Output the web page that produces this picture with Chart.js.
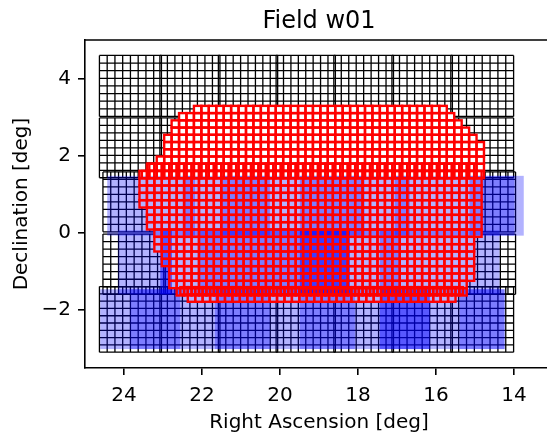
<!DOCTYPE html>
<html>
<head>
<meta charset="utf-8">
<script src="https://cdn.jsdelivr.net/npm/chart.js@4"></script>
<style>
  html, body { margin: 0; padding: 0; background: #fff; overflow: hidden; }
</style>
</head>
<body>
<canvas id="field-chart" width="560" height="432"></canvas>
<script>
// axis ticks
const raTicks = [14, 16, 18, 20, 22, 24];
const decTicks = [-2, 0, 2, 4];

// black chip mosaics: chip RA [left, right], chip Dec [top, bottom], cells per chip
const topChipRa = [[24.63, 23.04], [23.08, 21.54], [21.58, 20.06], [20.10, 18.58], [18.62, 17.09], [17.13, 15.58], [15.62, 14.01]];
const topChipDec = [[4.60, 3.02], [2.98, 1.43]];
const midChipRa = [[24.54, 22.94], [22.98, 21.44], [21.48, 19.96], [20.00, 18.48], [18.52, 16.99], [17.03, 15.48], [15.52, 13.96]];
const midChipDec = [[1.58, 0.03], [-0.03, -1.59]];
const botChipDec = [[-1.39, -3.09]];
const mosaics = [
  { ra: topChipRa, dec: topChipDec, nx: 8, ny: 8 },
  { ra: midChipRa, dec: midChipDec, nx: 8, ny: 8 },
  { ra: topChipRa, dec: botChipDec, nx: 8, ny: 9 },
];

// red cell grids: origin RA / Dec, cell size, and [firstCol, lastCol) for each row
const redA = { ra0: 23.542, dec0: 3.293, dRa: 0.1907, dDec: 0.1874,
  rows: [[7, 41], [5, 42], [4, 43], [4, 44], [3, 45], [3, 46], [3, 46], [2, 46], [1, 46], [0, 46]] };
const redB = { ra0: 23.603, dec0: 1.799, dRa: 0.1907, dDec: 0.19,
  rows: [[1, 45], [0, 46], [0, 46], [0, 46], [0, 46], [0, 46], [1, 46], [1, 46], [1, 46], [2, 46],
         [2, 45], [2, 45], [3, 45], [3, 45], [4, 45], [4, 45], [4, 44], [5, 44]] };
const redC = { ra0: 23.509, dec0: -1.404, dRa: 0.1907, dDec: 0.19,
  rows: [[5, 43], [6, 42]] };
const redGrids = [redA, redB, redC];

// blue footprints, per band: Dec [top, bottom] and RA [left, right] of each rectangle
const blueBandDec = [[1.48, -0.07], [0.07, -1.59], [-1.46, -3.01]];
const blueBandRa = [
  [[24.43, 13.75], [22.49, 22.18], [21.54, 20.26], [19.49, 17.83], [17.06, 16.67], [15.14, 13.99]],
  [[24.15, 14.37], [23.07, 22.77], [23.07, 22.77], [22.05, 20.90], [20.90, 19.49], [19.49, 18.21],
   [19.49, 18.21], [19.49, 18.21], [17.44, 16.93]],
  [[24.61, 14.24], [23.84, 22.56], [21.67, 20.26], [19.49, 18.08], [17.44, 16.16], [17.44, 16.16], [15.39, 14.24]],
];

const fieldPlugin = {
  id: 'fieldCells',
  beforeDatasetsDraw(chart) {
    const { ctx, chartArea, scales: { x, y } } = chart;
    const px = (v) => x.getPixelForValue(v);
    const py = (v) => y.getPixelForValue(v);
    ctx.save();
    ctx.beginPath();
    ctx.rect(chartArea.left, chartArea.top, chartArea.width, chartArea.height);
    ctx.clip();

    // black mosaics
    ctx.strokeStyle = '#000';
    ctx.lineWidth = 1.3;
    mosaics.forEach((m) => {
      m.dec.forEach(([d0, d1]) => {
        m.ra.forEach(([r0, r1]) => {
          ctx.beginPath();
          for (let i = 0; i <= m.nx; i++) {
            const xx = px(r0 + (r1 - r0) * i / m.nx);
            ctx.moveTo(xx, py(d0));
            ctx.lineTo(xx, py(d1));
          }
          for (let j = 0; j <= m.ny; j++) {
            const yy = py(d0 + (d1 - d0) * j / m.ny);
            ctx.moveTo(px(r0), yy);
            ctx.lineTo(px(r1), yy);
          }
          ctx.stroke();
        });
      });
    });

    const eachRedCell = (fn) => {
      redGrids.forEach((g) => {
        g.rows.forEach(([c0, c1], r) => {
          const top = g.dec0 - r * g.dDec;
          for (let c = c0; c < c1; c++) {
            const left = g.ra0 - c * g.dRa;
            fn(px(left), py(top), px(left - g.dRa), py(top - g.dDec));
          }
        });
      });
    };

    // red footprint hides the mosaic underneath
    ctx.fillStyle = '#fff';
    eachRedCell((x0, y0, x1, y1) => ctx.fillRect(x0, y0, x1 - x0, y1 - y0));

    // blue footprints
    ctx.fillStyle = 'rgba(0,0,255,0.3)';
    blueBandRa.forEach((band, b) => {
      const [d0, d1] = blueBandDec[b];
      band.forEach(([r0, r1]) => {
        ctx.fillRect(px(r0), py(d0), px(r1) - px(r0), py(d1) - py(d0));
      });
    });

    // red cells
    ctx.strokeStyle = '#ff0000';
    ctx.lineWidth = 2.4;
    eachRedCell((x0, y0, x1, y1) => ctx.strokeRect(x0, y0, x1 - x0, y1 - y0));

    ctx.restore();
  },
  afterDraw(chart) {
    // top and right spines
    const { ctx, chartArea } = chart;
    ctx.save();
    ctx.strokeStyle = '#000';
    ctx.lineWidth = 1.6;
    ctx.beginPath();
    ctx.moveTo(chartArea.left - 0.8, chartArea.top);
    ctx.lineTo(chartArea.right, chartArea.top);
    ctx.lineTo(chartArea.right, chartArea.bottom);
    ctx.stroke();
    ctx.restore();
  },
};

const tickFont = { family: 'DejaVu Sans', size: 20 };
const axisGrid = { display: true, drawOnChartArea: false, drawTicks: true, tickLength: 7, tickWidth: 1.6, lineWidth: 1.6, tickColor: '#000', color: '#000' };
const fmtTick = (v) => (v < 0 ? '\u2212' + Math.abs(v) : String(v));

new Chart(document.getElementById('field-chart'), {
  type: 'scatter',
  data: { datasets: [] },
  options: {
    responsive: false,
    animation: false,
    layout: { padding: { left: 0, right: 7, top: 0, bottom: 0 } },
    plugins: {
      legend: { display: false },
      tooltip: { enabled: false },
      title: {
        display: true,
        text: 'Field w01',
        fullSize: false,
        color: '#000',
        font: { family: 'DejaVu Sans', size: 24, weight: 'normal' },
        padding: { top: 7.5, bottom: 3.7 },
      },
    },
    scales: {
      x: {
        type: 'linear',
        reverse: true,
        min: 13,
        max: 25,
        afterBuildTicks: (s) => { s.ticks = raTicks.map((v) => ({ value: v })); },
        afterFit: (s) => { s.height = 64; },
        ticks: { color: '#000', font: tickFont, padding: 9, maxRotation: 0, callback: fmtTick },
        grid: axisGrid,
        border: { display: true, color: '#000', width: 1.6 },
        title: { display: true, text: 'Right Ascension [deg]', color: '#000', font: tickFont, padding: { top: 0, bottom: -3 } },
      },
      y: {
        type: 'linear',
        min: -3.5,
        max: 5,
        afterBuildTicks: (s) => { s.ticks = decTicks.map((v) => ({ value: v })); },
        afterFit: (s) => { s.width = 85; },
        ticks: { color: '#000', font: tickFont, padding: 7, callback: fmtTick },
        grid: axisGrid,
        border: { display: true, color: '#000', width: 1.6 },
        title: { display: true, text: 'Declination [deg]', color: '#000', font: tickFont, padding: { top: 10, bottom: 0 } },
      },
    },
  },
  plugins: [fieldPlugin],
});
</script>
</body>
</html>
